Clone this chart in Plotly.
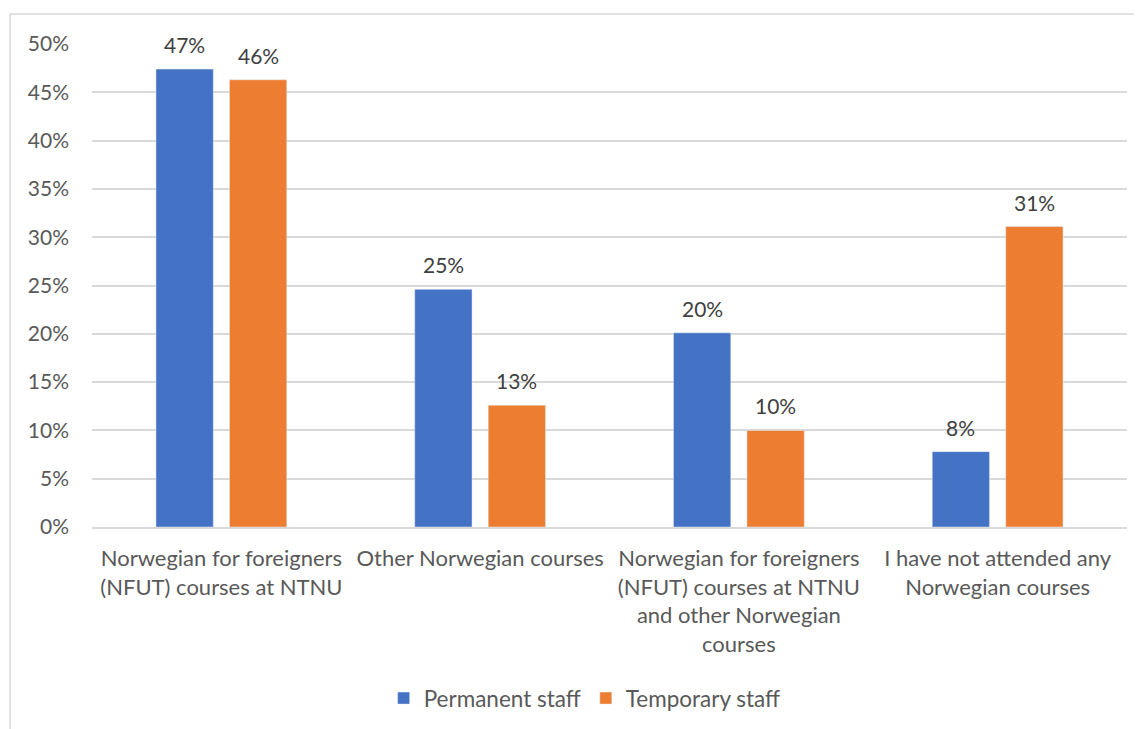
import plotly.graph_objects as go

categories = [
    'Norwegian for foreigners<br>(NFUT) courses at NTNU',
    'Other Norwegian courses',
    'Norwegian for foreigners<br>(NFUT) courses at NTNU<br>and other Norwegian<br>courses',
    'I have not attended any<br>Norwegian courses',
]
permanent = [0.474, 0.246, 0.201, 0.078]
temporary = [0.463, 0.126, 0.100, 0.311]
y_ticks = [0, 0.05, 0.10, 0.15, 0.20, 0.25, 0.30, 0.35, 0.40, 0.45, 0.50]

BLUE = '#4472C4'
ORANGE = '#ED7D31'
TEXT = '#595959'
FONT = 'Lato'

fig = go.Figure()
fig.add_trace(go.Bar(name='Permanent staff', x=categories, y=permanent, marker={'color': BLUE}))
fig.add_trace(go.Bar(name='Temporary staff', x=categories, y=temporary, marker={'color': ORANGE}))

# data labels sit a bit above the bars, Excel style
for series, shift in [(permanent, -36.75), (temporary, 36.75)]:
    for cat, val in zip(categories, series):
        fig.add_annotation(
            x=cat, y=val, text=f'{val:.0%}',
            showarrow=False, xshift=shift, yshift=10,
            yanchor='bottom', font={'size': 21, 'color': '#404040'}
        )

# thin frame around the chart area
fig.add_shape(
    type='rect', xref='paper', yref='paper',
    x0=-0.0792, x1=1.05, y0=-0.45, y1=1.062,
    line={'color': '#D9D9D9', 'width': 1.5}, layer='below'
)

fig.update_layout(
    width=1134,
    height=721,
    margin={'l': 84, 'r': 15, 't': 36, 'b': 202, 'autoexpand': False},
    paper_bgcolor='white',
    plot_bgcolor='white',
    barmode='group',
    bargap=0.432,
    bargroupgap=0.22,
    font={'family': FONT, 'size': 22, 'color': TEXT},
    showlegend=True,
    legend={
        'orientation': 'h',
        'x': 0.476, 'xanchor': 'center',
        'y': -0.355, 'yanchor': 'middle',
        'font': {'size': 22.5, 'color': TEXT},
    },
)
fig.update_yaxes(
    range=[0, 0.5],
    tickvals=y_ticks,
    tickformat='.0%',
    showgrid=True,
    gridcolor='#D9D9D9',
    gridwidth=1.5,
    zeroline=False,
    showline=False,
    ticks='',
    ticklabelstandoff=22,
    tickfont={'size': 21, 'color': TEXT},
    automargin=False,
)
fig.update_xaxes(
    showline=True,
    linecolor='#D9D9D9',
    linewidth=1.5,
    ticks='',
    ticklabelstandoff=11,
    tickfont={'size': 22, 'color': TEXT},
    tickangle=0,
    automargin=False,
)

fig.write_html("out.html")
